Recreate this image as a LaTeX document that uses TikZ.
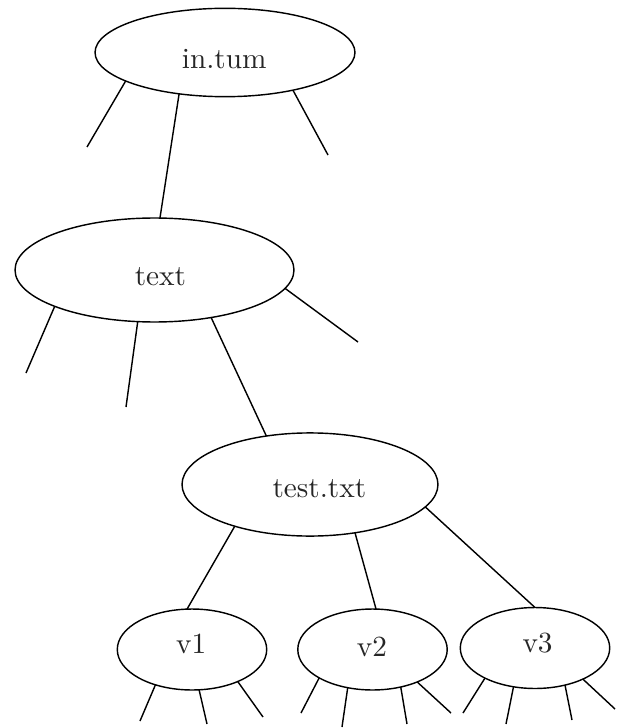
\documentclass[tikz,border=0pt]{standalone}
\usepackage{tikz}
\usetikzlibrary{shapes.geometric}

\begin{document}
\begin{tikzpicture}[
  x=0.352pt,y=-0.352pt,
  every label/.style={font=\fontsize{10.3}{12.4}\selectfont,text=black!85,inner sep=0pt},
  folder/.style={draw,ellipse,inner sep=0pt,outer sep=0pt,line width=0.5pt},
  version/.style={folder,minimum width=52.6pt,minimum height=28.5pt},
  edge/.style={line width=0.5pt}
]
\useasboundingbox (0,0) rectangle (631,728);
% directory nodes
\node[folder,minimum width=91.5pt,minimum height=31.1pt,
  label={[xshift=-0.3pt,yshift=-2.3pt]center:in.tum}] (intum) at (225,52.5) {};
\node[folder,minimum width=98.2pt,minimum height=36.6pt,
  label={[xshift=2.1pt,yshift=-2.5pt]center:text}] (text) at (154.5,270) {};
\node[folder,minimum width=90.1pt,minimum height=36.3pt,
  label={[xshift=3.3pt,yshift=-1.4pt]center:test.txt}] (testtxt) at (310,484.5) {};
\node[version,label={[xshift=-0.3pt,yshift=1.9pt]center:v1}] (v1) at (192,649.5) {};
\node[version,label={[xshift=-0.2pt,yshift=1.0pt]center:v2}] (v2) at (372.5,649.5) {};
\node[version,label={[xshift=0.9pt,yshift=1.8pt]center:v3}] (v3) at (535,648) {};
% tree edges
\draw[edge] (intum.222) -- (text.84);
\draw[edge] (text.320) -- (testtxt.132);
\draw[edge] (testtxt.209) -- (v1.97);
\draw[edge] (testtxt.313) -- (v2.85);
\draw[edge] (testtxt.349) -- (v3.90);
% loose ends
\coordinate (tumL) at (87,147);
\coordinate (tumR) at (328,155);
\coordinate (textA) at (26,373);
\coordinate (textB) at (126,407);
\coordinate (textC) at (358,342);
\coordinate (vOneA) at (140,721);
\coordinate (vOneB) at (207,724);
\coordinate (vOneC) at (263,717);
\coordinate (vTwoA) at (301,713);
\coordinate (vTwoB) at (342,727);
\coordinate (vTwoC) at (407,724);
\coordinate (vTwoD) at (451,713);
\coordinate (vThreeA) at (463,713);
\coordinate (vThreeB) at (506,724);
\coordinate (vThreeC) at (572,720);
\coordinate (vThreeD) at (615,709);
\draw[edge] (intum.196) -- (tumL);
\draw[edge] (intum.331) -- (tumR);
\draw[edge] (text.200) -- (textA);
\draw[edge] (text.252) -- (textB);
\draw[edge] (text.352) -- (textC);
\draw[edge] (v1.224) -- (vOneA);
\draw[edge] (v1.280) -- (vOneB);
\draw[edge] (v1.325) -- (vOneC);
\draw[edge] (v2.208) -- (vTwoA);
\draw[edge] (v2.237) -- (vTwoB);
\draw[edge] (v2.307) -- (vTwoC);
\draw[edge] (v2.324) -- (vTwoD);
\draw[edge] (v3.211) -- (vThreeA);
\draw[edge] (v3.241) -- (vThreeB);
\draw[edge] (v3.309) -- (vThreeC);
\draw[edge] (v3.327) -- (vThreeD);
\end{tikzpicture}
\end{document}
